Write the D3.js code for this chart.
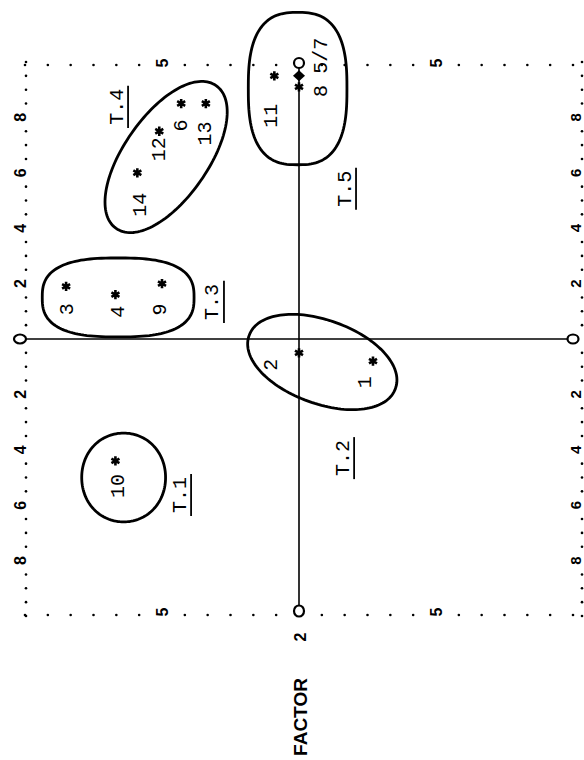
<!DOCTYPE html>
<html>
<head>
<meta charset="utf-8">
<script src="https://cdn.jsdelivr.net/npm/d3@7"></script>
<style>
  body { margin: 0; background: #fff; }
  svg { display: block; }
</style>
</head>
<body>
<div id="container"></div>
<script>
// loadings, image horizontal = factor 1, image vertical = factor 2 (page is printed sideways)
const pointIds = ["1", "2", "3", "4", "5/7", "6", "8", "9", "10", "11", "12", "13", "14"];
const factor1  = [0.27, 0.00, -0.85, -0.67, 0.00, -0.43, 0.00, -0.50, -0.67, -0.09, -0.51, -0.34, -0.59];
const factor2  = [-0.08, -0.05, 0.19, 0.16, 0.95, 0.85, 0.91, 0.20, -0.44, 0.95, 0.75, 0.85, 0.60];
const markers  = ["star", "star", "star", "star", "diamond", "star", "star", "star", "star", "star", "star", "star", "star"];

// typologies circled on the plot (data units)
const groupNames = ["T.1", "T.2", "T.3", "T.4", "T.5"];
const groupCx    = [-0.64, 0.085, -0.66, -0.485, -0.005];
const groupCy    = [-0.50, -0.083, 0.15, 0.657, 0.904];
const groupRx    = [0.153, 0.284, 0.277, 0.318, 0.18];
const groupRy    = [0.162, 0.152, 0.144, 0.153, 0.278];
const groupTilt  = [0, 20, 0, -55, 0];
const groupLabX  = [-0.434, 0.161, -0.314, -0.664, 0.168];
const groupLabY  = [-0.563, -0.43, 0.134, 0.838, 0.542];

// border scale labels
const edgeTicks  = [-0.8, -0.6, -0.4, -0.2, 0.2, 0.4, 0.6, 0.8];
const edgeLabels = ["8", "6", "4", "2", "2", "4", "6", "8"];
const rowTicks   = [-0.5, 0.5];
const rowLabels  = ["5", "5"];

const W = 584, H = 760;
const x = d3.scaleLinear().domain([-1, 1]).range([25, 573]);
const y = d3.scaleLinear().domain([-1, 1]).range([616, 62]);

const svg = d3.select("#container").append("svg")
  .attr("width", W).attr("height", H)
  .style("background", "#fff");

const tickFont = "'Liberation Sans', Arial, sans-serif";
const typeFont = "'Liberation Mono', 'Courier New', monospace";

// ---- dotted frame
const colSteps = d3.range(-20, 21).map(i => i / 20);
const rowSteps = d3.range(-12, 13).map(i => i / 12);
const near = (v, arr) => arr.some(t => Math.abs(t - v) < 1e-6);
const colDots = colSteps.filter(v => !near(v, edgeTicks) && v !== 0);
const rowDots = rowSteps.filter(v => !near(v, rowTicks) && v !== 0);

const dots = svg.append("g").attr("fill", "#000");
dots.selectAll(".dl").data(colDots).join("circle")
  .attr("cx", x(-1) + 1).attr("cy", d => y(d)).attr("r", 1.3);
dots.selectAll(".dr").data(colDots).join("circle")
  .attr("cx", x(1) + 9).attr("cy", d => y(d)).attr("r", 1.3);
dots.selectAll(".dt").data(rowDots).join("circle")
  .attr("cx", d => x(d)).attr("cy", y(1) + 3).attr("r", 1.3);
dots.selectAll(".db").data(rowDots).join("circle")
  .attr("cx", d => x(d)).attr("cy", y(-1) - 1).attr("r", 1.3);

// ---- border labels (rotated like the rest of the print)
const rot = (px, py) => `translate(${px},${py}) rotate(-90)`;
const ticks = svg.append("g")
  .attr("font-family", tickFont).attr("font-weight", "bold")
  .attr("font-size", 16).attr("text-anchor", "middle")
  .attr("dominant-baseline", "central");

edgeTicks.forEach((t, i) => {
  ticks.append("text").attr("transform", rot(x(-1) - 5, y(t))).text(edgeLabels[i]);
  ticks.append("text").attr("transform", rot(x(1) + 2, y(t)))
    .attr("font-size", 15).text(edgeLabels[i]);
});
rowTicks.forEach((t, i) => {
  ticks.append("text").attr("transform", rot(x(t), y(1) + 1)).text(rowLabels[i]);
  ticks.append("text").attr("transform", rot(x(t), y(-1) - 4)).text(rowLabels[i]);
});

// ---- axis lines through the origin
svg.append("line")
  .attr("x1", x(-1) - 5).attr("x2", x(1))
  .attr("y1", y(0)).attr("y2", y(0))
  .attr("stroke", "#000").attr("stroke-width", 1.6);
svg.append("line")
  .attr("x1", x(0)).attr("x2", x(0))
  .attr("y1", y(1) + 1).attr("y2", y(-1) - 5)
  .attr("stroke", "#000").attr("stroke-width", 1.6);

// the "0" ends of each scale
const zeros = [[x(-1) - 5, y(0), 6, 4.5], [x(1), y(0), 5.5, 4.5], [x(0), y(1) + 1, 5, 5], [x(0), y(-1) - 5, 5, 5.5]];
svg.selectAll(".zero").data(zeros).join("ellipse")
  .attr("cx", d => d[0]).attr("cy", d => d[1])
  .attr("rx", d => d[2]).attr("ry", d => d[3])
  .attr("fill", "#fff").attr("stroke", "#000").attr("stroke-width", 2.2);

// ---- group outlines
const kx = (x(1) - x(-1)) / 2;
const shapePts = (i) => {
  const n = (i === 2 || i === 4) ? 2.7 : 2.05;
  const a = groupTilt[i] * Math.PI / 180;
  const rx = groupRx[i] * kx, ry = groupRy[i] * kx;
  return d3.range(0, 144).map(k => {
    const t = k / 144 * 2 * Math.PI;
    const c = Math.cos(t), s = Math.sin(t);
    const ex = rx * Math.sign(c) * Math.pow(Math.abs(c), 2 / n);
    const ey = ry * Math.sign(s) * Math.pow(Math.abs(s), 2 / n);
    return [x(groupCx[i]) + ex * Math.cos(a) - ey * Math.sin(a),
            y(groupCy[i]) + ex * Math.sin(a) + ey * Math.cos(a)];
  });
};
const outline = d3.line().curve(d3.curveLinearClosed);
svg.append("g").selectAll("path").data(groupNames).join("path")
  .attr("d", (d, i) => outline(shapePts(i)))
  .attr("fill", "none").attr("stroke", "#000").attr("stroke-width", 2.8);

// ---- points
const star = d3.symbol().type(d3.symbolAsterisk).size(60);
const diamond = "M0,-5.5L6,0L0,5.5L-6,0Z";
const pts = svg.append("g");
pointIds.forEach((id, i) => {
  const g = pts.append("g").attr("transform", `translate(${x(factor1[i])},${y(factor2[i])})`);
  if (markers[i] === "diamond") {
    g.append("path").attr("d", diamond).attr("fill", "#000");
  } else {
    g.append("path").attr("d", star()).attr("fill", "none")
      .attr("stroke", "#000").attr("stroke-width", 2.6);
  }
});

// label nudges in pixels (layout only)
const labelNudge = {
  "1": [-7, 21], "2": [-28, 12], "3": [1, 23], "4": [3, 17], "5/7": [22, -20],
  "6": [0, 22], "8": [22, 4], "9": [-2, 26], "10": [3, 25], "11": [-3, 40],
  "12": [0, 18], "13": [0, 30], "14": [3, 32]
};
const labs = svg.append("g")
  .attr("font-family", typeFont).attr("font-size", 20)
  .attr("text-anchor", "middle").attr("dominant-baseline", "central");
pointIds.forEach((id, i) => {
  const nd = labelNudge[id];
  labs.append("text")
    .attr("transform", rot(x(factor1[i]) + nd[0], y(factor2[i]) + nd[1]))
    .text(id);
});

// ---- group names, underlined
groupNames.forEach((name, i) => {
  const px = x(groupLabX[i]), py = y(groupLabY[i]);
  const t = labs.append("text").attr("transform", rot(px, py)).text(name);
  const len = t.node().getComputedTextLength();
  svg.append("line")
    .attr("x1", px + 11).attr("x2", px + 11)
    .attr("y1", py - len / 2 - 3).attr("y2", py + len / 2 + 3)
    .attr("stroke", "#000").attr("stroke-width", 1.8);
});

// ---- axis title
ticks.append("text").attr("transform", rot(x(0) + 1, y(-1) + 21)).text("2");
ticks.append("text").attr("transform", rot(x(0) + 1, y(-1) + 101))
  .attr("font-size", 19).text("FACTOR");
</script>
</body>
</html>
